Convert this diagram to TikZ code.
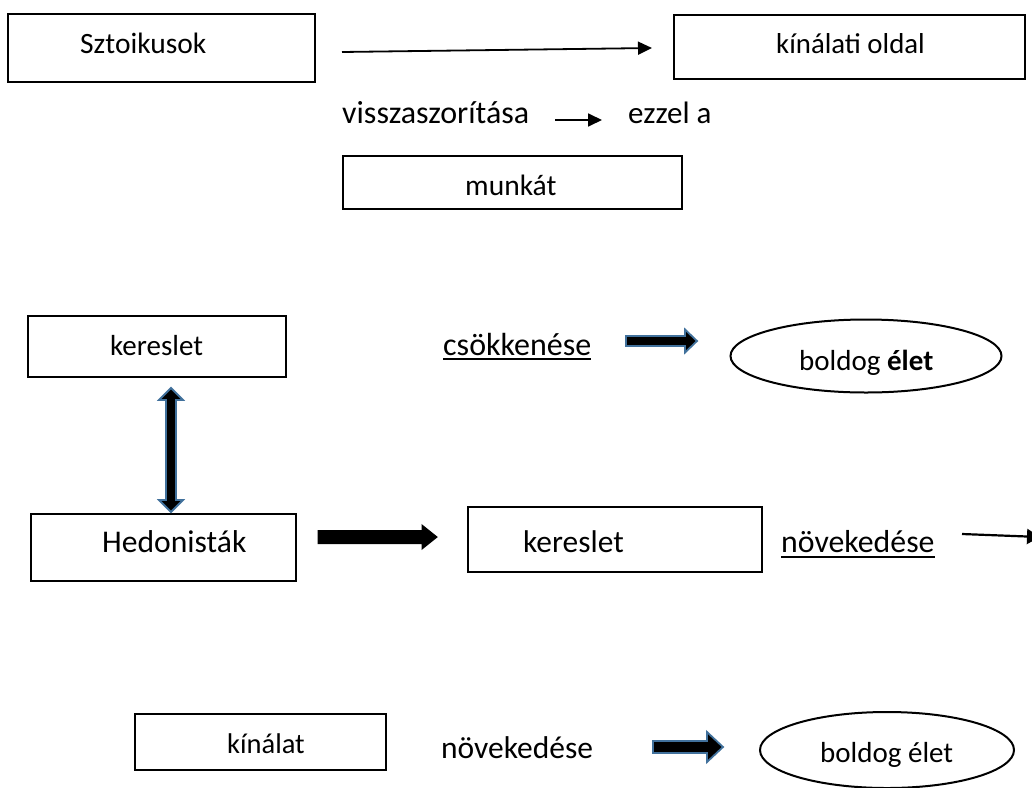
\documentclass[tikz,border=0pt]{standalone}
\usepackage{fontspec}
\setmainfont{Carlito}
\usetikzlibrary{arrows.meta,shapes.geometric}
\definecolor{outl}{HTML}{41719C}
\newcommand{\fs}[1]{\fontsize{#1}{#1}\selectfont}
\newcommand{\hblock}[7]{\draw[#7] (#1,{#3-#4}) -- ({#2-#6},{#3-#4}) -- ({#2-#6},{#3-#5}) -- (#2,#3) -- ({#2-#6},{#3+#5}) -- ({#2-#6},{#3+#4}) -- (#1,{#3+#4}) -- cycle;}
\tikzset{
  box/.style={draw=black, line width=2pt, rectangle, inner sep=0pt},
  txt/.style={inner sep=0pt, anchor=base west},
  ell/.style={draw=black, ellipse, line width=2pt, inner sep=0pt},
  conn/.style={line width=1.8pt, -{Triangle[length=14pt,width=13pt]}},
  blockblue/.style={fill=black, draw=outl, line width=1.8pt, line join=miter},
  blockblack/.style={fill=black, draw=black, line width=1pt, line join=miter},
  uline/.style={line width=2.2pt}
}
\begin{document}
\begin{tikzpicture}[x=1pt,y=-1pt]
\useasboundingbox (0,0) rectangle (1032,787);
% boxes
\node[box, minimum width=307pt, minimum height=68pt] (sztbox) at (161.5,48) {};
\node[box, minimum width=351pt, minimum height=64pt] (kinbox) at (849.5,47) {};
\node[box, minimum width=339pt, minimum height=53pt] (munbox) at (512.5,182.5) {};
\node[box, minimum width=258pt, minimum height=61pt] (ker1box) at (157,346.5) {};
\node[box, minimum width=265pt, minimum height=67pt] (hedbox) at (163.5,547.5) {};
\node[box, minimum width=294pt, minimum height=65pt] (ker2box) at (615,539.5) {};
\node[box, minimum width=251pt, minimum height=56pt] (kinalbox) at (260.5,742) {};
% ellipses
\node[ell, minimum width=271pt, minimum height=73pt] (ell1) at (866,356) {};
\node[ell, minimum width=254pt, minimum height=76pt] (ell2) at (887,750) {};
% texts
\node[txt] (tszt) at (80,53) {\fs{29.5}Sztoikusok};
\node[txt] (tkin) at (776,53) {\fs{28.8}kínálati oldal};
\node[txt] (tvis) at (342,123) {\fs{32}visszaszorítása};
\node[txt] (tezz) at (628,123) {\fs{31}ezzel a};
\node[txt] (tmun) at (465,195) {\fs{29.5}munkát};
\node[txt] (tker1) at (110,355) {\fs{29}kereslet};
\node[txt] (thed) at (102,552) {\fs{31.6}Hedonisták};
\node[txt] (tker2) at (523,552) {\fs{31.4}kereslet};
\node[txt] (tnov1) at (781,552) {\fs{31.8}növekedése};
\node[txt] (tcsok) at (443,355) {\fs{32}csökkenése};
\node[txt] (tbol1) at (799,370) {\fs{29}boldog \textbf{élet}};
\node[txt] (tkinal) at (227,753) {\fs{28.5}kínálat};
\node[txt] (tnov2) at (441,758) {\fs{31.5}növekedése};
\node[txt] (tbol2) at (820,762) {\fs{29}boldog élet};
% underlines
\draw[uline] ([yshift=-5pt]tnov1.base west) -- ([yshift=-5pt]tnov1.base east);
\draw[uline] ([yshift=-4pt]tcsok.base west) -- ([yshift=-4pt]tcsok.base east);
% thin arrows
\coordinate (a1s) at (342,52);
\coordinate (a1e) at (652,48);
\draw[conn] (a1s) -- (a1e);
\coordinate (a2s) at (555,120);
\coordinate (a2e) at (602,120);
\draw[line width=1.8pt, -{Triangle[length=14pt,width=13pt]}] (a2s) -- (a2e);
\coordinate (a3s) at (962,534);
\coordinate (a3e) at (1040,537);
\draw[line width=2.2pt, -{Triangle[length=13pt,width=15pt]}] (a3s) -- (a3e);
% block arrows
\draw[blockblue] (171,388) -- (183,400) -- (176,400) -- (176,500) -- (183,500) -- (171,512) -- (159,500) -- (166,500) -- (166,400) -- (159,400) -- cycle;
\hblock{318}{437}{537}{6.5}{12}{15}{blockblack}
\hblock{626}{697}{341}{5}{11.5}{12}{blockblue}
\hblock{653}{723}{747}{6}{15}{16}{blockblue}
\end{tikzpicture}
\end{document}
